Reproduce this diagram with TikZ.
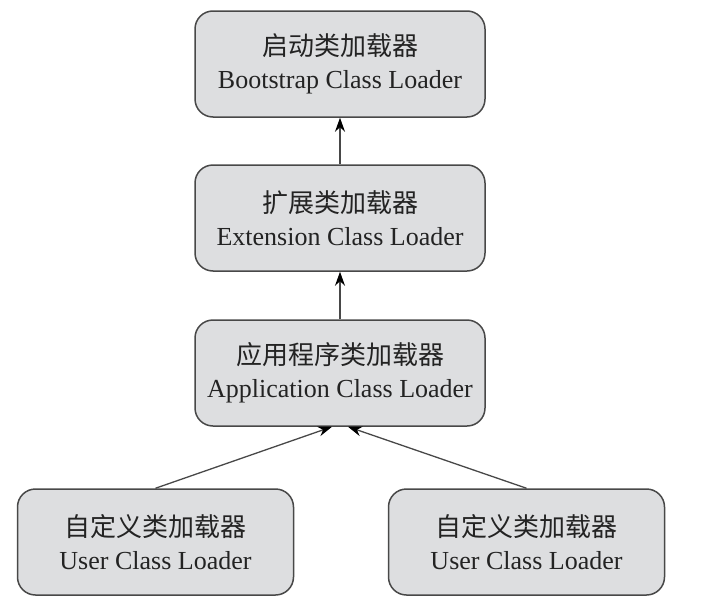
\documentclass[tikz,border=0pt]{standalone}
\usepackage{fontspec}
\setmainfont{Liberation Serif}
\newfontfamily\cjk{Noto Sans CJK SC}
\usetikzlibrary{arrows.meta}
\definecolor{boxfill}{RGB}{221,222,224}
\definecolor{boxline}{RGB}{72,72,72}
\definecolor{txt}{RGB}{35,35,35}
\tikzstyle{loader}=[shape=rectangle,rounded corners=18pt,draw=boxline,fill=boxfill,line width=1.5pt,
    minimum width=290pt,minimum height=106pt,align=center,text=txt,font=\fontsize{26}{33}\selectfont]
\tikzstyle{user}=[loader,minimum width=276pt]
\tikzstyle{up}=[-{Stealth[length=14pt,width=10pt,color=black]},draw=boxline,line width=1.3pt]

\begin{document}
\begin{tikzpicture}[x=1pt,y=-1pt]
        \useasboundingbox (0,0) rectangle (704,613);
        % loaders
        \node[loader] (boot) at (340,64) {{\cjk 启动类加载器}\\Bootstrap Class Loader};
        \node[loader] (ext) at (340,218) {{\cjk 扩展类加载器}\\Extension Class Loader}
            edge [up] (boot);
        \node[loader] (app) at (340,373) {{\cjk 应用程序类加载器}\\Application Class Loader}
            edge [up] (ext);
        \node[user] (user1) at (155.5,542) {{\cjk 自定义类加载器}\\User Class Loader};
        \node[user] (user2) at (526.5,542) {{\cjk 自定义类加载器}\\User Class Loader};
        \draw [up] (user1.north) -- ([xshift=-8pt]app.south);
        \draw [up] (user2.north) -- ([xshift=8pt]app.south);
    \end{tikzpicture}
\end{document}
